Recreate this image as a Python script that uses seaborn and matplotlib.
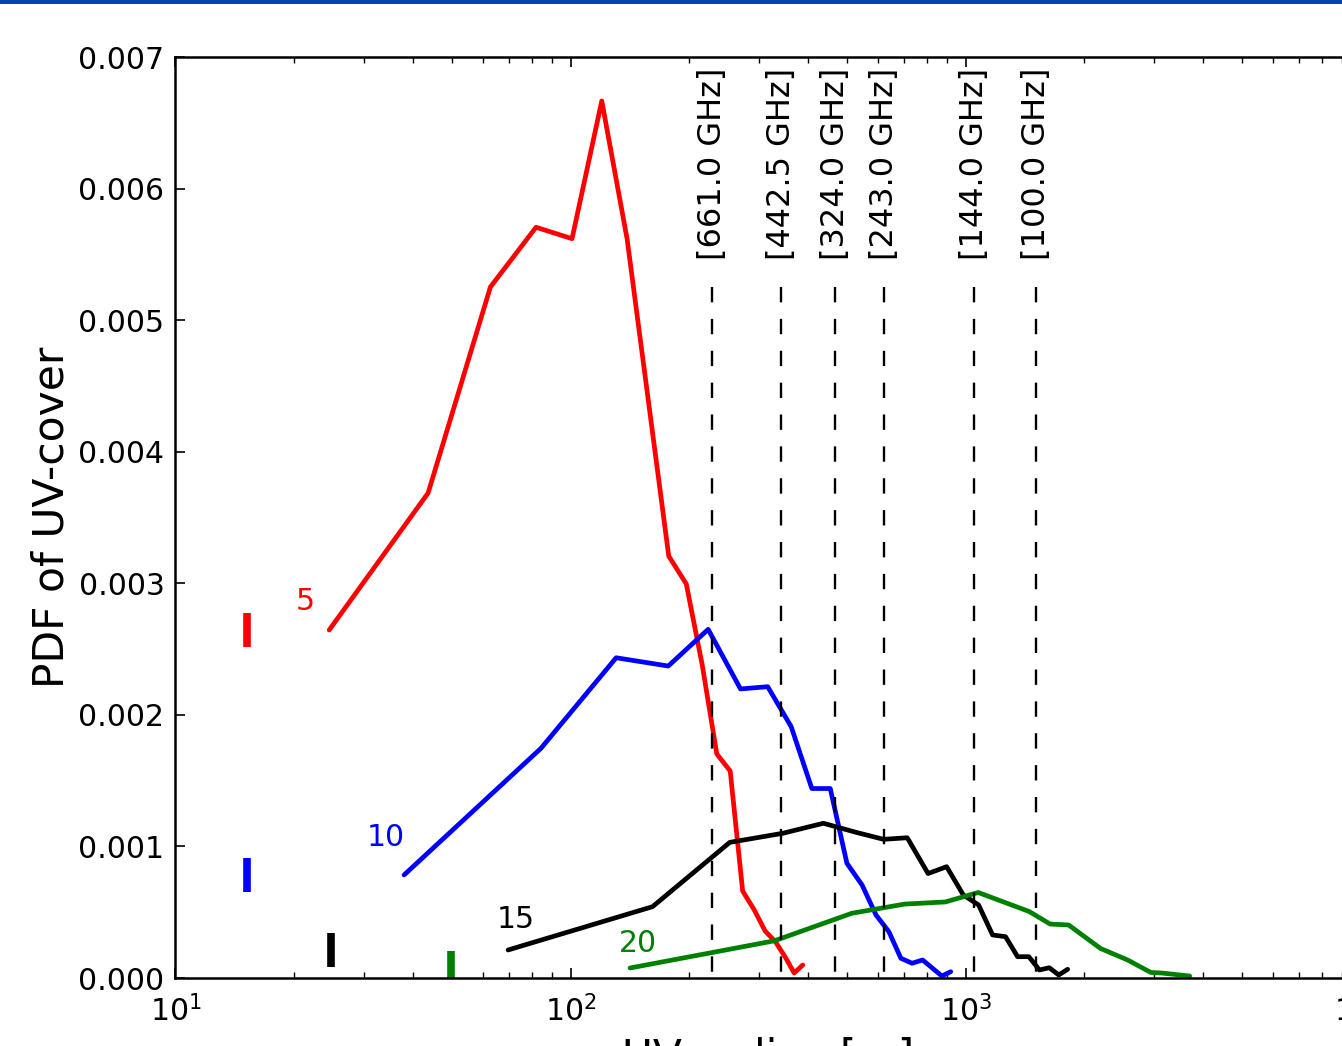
import matplotlib
matplotlib.use("Agg")
import matplotlib.pyplot as plt
import seaborn as sns
from matplotlib.patches import Rectangle
from matplotlib.ticker import LogLocator, MultipleLocator, FormatStrFormatter

# UV-cover probability density for four configurations (x: UV radius in m)
red_x = [24.5, 43.6, 62.7, 81.8, 100.9, 120.0, 139.1, 177.3, 196.4, 215.5,
         234.6, 253.7, 272.8, 291.9, 311.0, 330.1, 349.2, 368.3, 387.4]
red_y = [0.002645, 0.003686, 0.005252, 0.005706, 0.005619, 0.006666, 0.005617,
         0.003207, 0.002995, 0.002380, 0.001703, 0.001573, 0.000661, 0.000517,
         0.000357, 0.000276, 0.000162, 0.000038, 0.000099]

blue_x = [37.9, 84.2, 130.5, 176.8, 223.1, 269.4, 315.7, 362.0, 408.3, 454.6,
          500.9, 547.2, 593.5, 639.8, 686.1, 732.4, 778.7, 871.3, 917.6]
blue_y = [0.000783, 0.001746, 0.002434, 0.002371, 0.002650, 0.002197, 0.002214,
          0.001910, 0.001440, 0.001440, 0.000872, 0.000707, 0.000479, 0.000352,
          0.000150, 0.000112, 0.000137, 0.000015, 0.000048]

black_x = [69.5, 161.3, 253.1, 344.9, 436.7, 528.5, 620.3, 712.1, 803.9, 895.7,
           987.5, 1079.3, 1171.1, 1262.9, 1354.7, 1446.5, 1538.3, 1630.1, 1721.9, 1813.7]
black_y = [0.000213, 0.000542, 0.001031, 0.001100, 0.001176, 0.001107, 0.001054,
           0.001066, 0.000794, 0.000846, 0.000631, 0.000555, 0.000327, 0.000314,
           0.000162, 0.000162, 0.000061, 0.000078, 0.000023, 0.000066]

green_x = [141.5, 328.5, 515.5, 702.5, 889.5, 1076.5, 1450.5, 1637.5, 1824.5,
           2198.5, 2572.5, 2946.5, 3133.5, 3694.5]
green_y = [0.000076, 0.000283, 0.000492, 0.000562, 0.000578, 0.000650, 0.000505,
           0.000410, 0.000403, 0.000224, 0.000137, 0.000042, 0.000038, 0.000015]

series_labels = ["5", "10", "15", "20"]
series_colors = ["#ff0000", "#0000ff", "#000000", "#008000"]
# short baseline markers drawn at the level of each curve's first point
marker_x = [15.2, 15.2, 24.7, 49.8]
# label anchor (baseline) for each curve's name
label_pos = [(21.27, 0.00280), (34.07, 0.00100), (72.87, 0.00038), (148.4, 0.00020)]

# observing bands and the UV radius at which each one resolves
band_freqs = [661.0, 442.5, 324.0, 243.0, 144.0, 100.0]
band_scale = 1.51e5

sns.set_style("ticks")
plt.rcParams.update({
    "font.family": ["DejaVu Sans"],
    "mathtext.fontset": "dejavusans",
    "text.color": "black",
    "axes.labelcolor": "black",
    "axes.edgecolor": "black",
    "xtick.color": "black",
    "ytick.color": "black",
    "xtick.direction": "in",
    "ytick.direction": "in",
    "xtick.top": True,
    "ytick.right": True,
    "axes.linewidth": 1.8,
})

fig = plt.figure(figsize=(13.42, 10.46), dpi=100)
ax = fig.add_axes([175.5 / 1342, 68 / 1046, 1185 / 1342, 921 / 1046])

xs = [red_x, blue_x, black_x, green_x]
ys = [red_y, blue_y, black_y, green_y]
for x, y, c in zip(xs, ys, series_colors):
    sns.lineplot(x=x, y=y, color=c, linewidth=3.4, ax=ax, sort=False,
                 estimator=None)

for x, y, c, mx in zip(xs, ys, series_colors, marker_x):
    ax.plot([mx], [y[0]], marker="|", markersize=24, markeredgewidth=5.5,
            color=c, linestyle="none")

for (tx, ty), lab, c in zip(label_pos, series_labels, series_colors):
    ax.text(tx, ty, lab, color=c, fontsize=21.5, ha="center", va="baseline")

for f in band_freqs:
    xr = band_scale / f
    ax.plot([xr, xr], [0.00525, 0.0], color="black", linewidth=1.7,
            linestyle=(0, (6.5, 7)))
    ax.text(xr + 0.004 * xr, 0.00546, f"[{f:.1f} GHz]", rotation=90,
            fontsize=23, ha="center", va="bottom")

ax.set_xscale("log")
ax.set_xlim(10, 1e4)
ax.set_ylim(0, 0.007)
ax.yaxis.set_major_locator(MultipleLocator(0.001))
ax.yaxis.set_major_formatter(FormatStrFormatter("%.3f"))
ax.xaxis.set_major_locator(LogLocator(base=10, numticks=10))
ax.xaxis.set_minor_locator(LogLocator(base=10, subs=range(2, 10), numticks=20))

ax.tick_params(which="major", length=7, width=1.2, labelsize=21.5)
ax.tick_params(axis="y", which="major", pad=8)
ax.tick_params(axis="x", which="major", pad=12)
ax.tick_params(which="minor", length=4, width=1.0)

ax.set_ylabel("PDF of UV-cover", fontsize=30.5)
ax.yaxis.set_label_coords(-0.087, 0.5)
ax.set_xlabel("UV radius [m]", fontsize=30.5)
ax.xaxis.set_label_coords(0.5, -0.064)

fig.add_artist(Rectangle((0, 1 - 4 / 1046), 1, 4 / 1046, transform=fig.transFigure,
                         facecolor="#0344a8", edgecolor="none", zorder=10))

fig.savefig("out.png", dpi=100)
